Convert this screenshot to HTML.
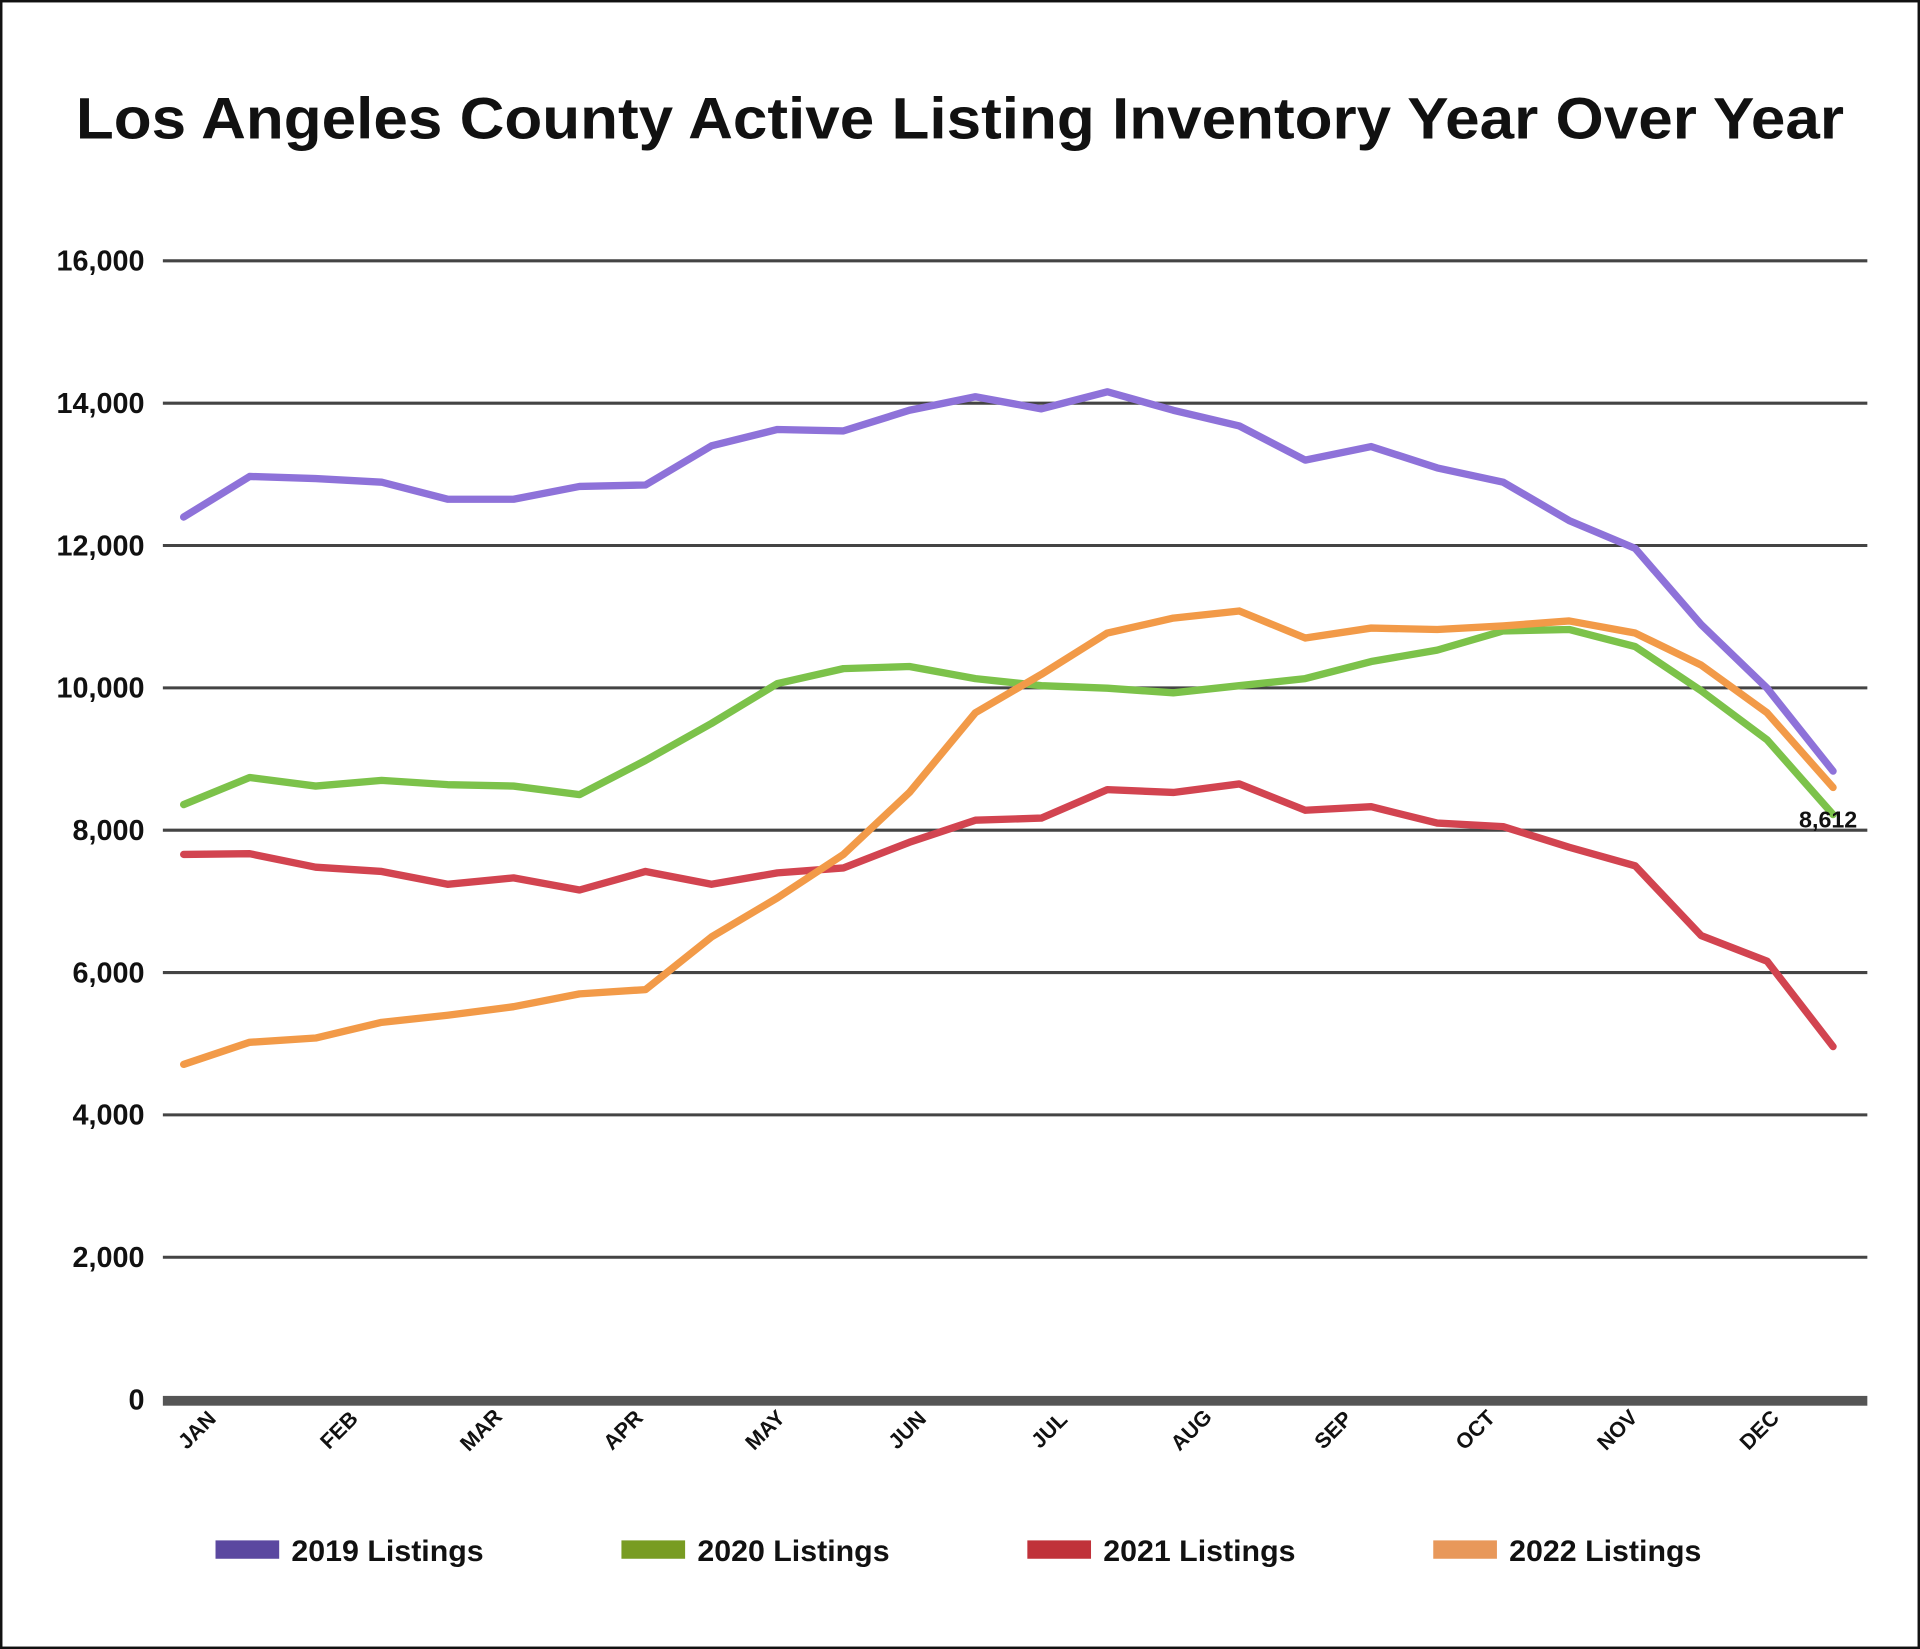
<!DOCTYPE html>
<html><head><meta charset="utf-8"><style>
html,body{margin:0;padding:0;background:#fff}
svg{display:block}
text{font-family:"Liberation Sans",sans-serif;font-weight:bold;fill:#111}
</style></head><body>
<svg id="chart" width="1920" height="1649" viewBox="0 0 1568 1346.7" xmlns="http://www.w3.org/2000/svg">
<rect x="1" y="1" width="1566" height="1344.7" fill="#fff" stroke="#111" stroke-width="2"/>
<text x="62" y="113" textLength="1444" lengthAdjust="spacingAndGlyphs" font-size="48">Los Angeles County Active Listing Inventory Year Over Year</text>
<g id="grid"></g><g id="lines"></g><g id="xlabels"></g><g id="legend"></g>
<text x="1493" y="676" text-anchor="middle" font-size="19">8,612</text>
</svg>
<script>
const yTicks=[0,2000,4000,6000,8000,10000,12000,14000,16000];
const months=["JAN","FEB","MAR","APR","MAY","JUN","JUL","AUG","SEP","OCT","NOV","DEC"];
const s2019=[12400,12970,12940,12890,12650,12650,12830,12850,13400,13630,13610,13900,14090,13920,14160,13900,13680,13200,13390,13090,12890,12350,11960,10890,9995,8830];
const s2020=[8360,8740,8620,8700,8640,8620,8500,8980,9500,10060,10270,10300,10130,10030,9995,9930,10030,10130,10370,10530,10800,10820,10580,9960,9270,8220];
const s2021=[7660,7670,7480,7420,7240,7330,7160,7420,7240,7400,7470,7830,8140,8170,8570,8530,8650,8280,8330,8100,8050,7760,7500,6520,6160,4960];
const s2022=[4710,5020,5080,5300,5400,5520,5700,5760,6500,7050,7660,8530,9650,10190,10770,10980,11080,10700,10840,10820,10870,10940,10770,10320,9650,8600];
const seriesNames=["2019 Listings","2020 Listings","2021 Listings","2022 Listings"];
const NS="http://www.w3.org/2000/svg";
const yS=v=>1143-v*(930/16000);
const xS=i=>150+i*(1347/25);
const mX=i=>165+i*116;
function mk(t,a,p){const e=document.createElementNS(NS,t);for(const k in a)e.setAttribute(k,a[k]);p.appendChild(e);return e;}
const grid=document.getElementById('grid');
yTicks.forEach(v=>{
 if(v>0){const l=mk('line',{x1:133,x2:1525,y1:yS(v),y2:yS(v),stroke:'#444','stroke-width':2.5},grid);
 
 }
 const t=mk('text',{x:118,y:yS(v)+8,'text-anchor':'end','font-size':23.5},grid);t.textContent=v.toLocaleString('en-US');
 
 
});
const base=mk('rect',{x:133,y:1140,width:1392,height:8,fill:'#555'},grid);


const lc=['#8e72d9','#7cc24a','#d24450','#f29a48'];
const legc=['#5b48a0','#789c22','#c0323a','#e8985a'];
const data=[s2019,s2020,s2021,s2022];
const lines=document.getElementById('lines');
data.forEach((s,k)=>{
 const p=mk('polyline',{points:s.map((v,i)=>xS(i)+','+yS(v)).join(' '),fill:'none',stroke:lc[k],'stroke-width':6,'stroke-linejoin':'round','stroke-linecap':'round'},lines);
 
 
});
const xl=document.getElementById('xlabels');
months.forEach((m,i)=>{
 const t=mk('text',{x:mX(i),y:1172,'text-anchor':'middle','font-size':17.5,transform:`rotate(-45 ${mX(i)} 1172)`},xl);t.textContent=m;
 
 
});
const lg=document.getElementById('legend');
seriesNames.forEach((n,k)=>{
 const x0=176+k*331.5;
 const g=mk('g',{},lg);
 
 
 mk('rect',{x:x0,y:1258,width:52,height:15,fill:legc[k]},g);
 const t=mk('text',{x:x0+62,y:1275,'font-size':24,textLength:157,lengthAdjust:'spacingAndGlyphs'},g);t.textContent=n;
});
</script>
</body></html>
